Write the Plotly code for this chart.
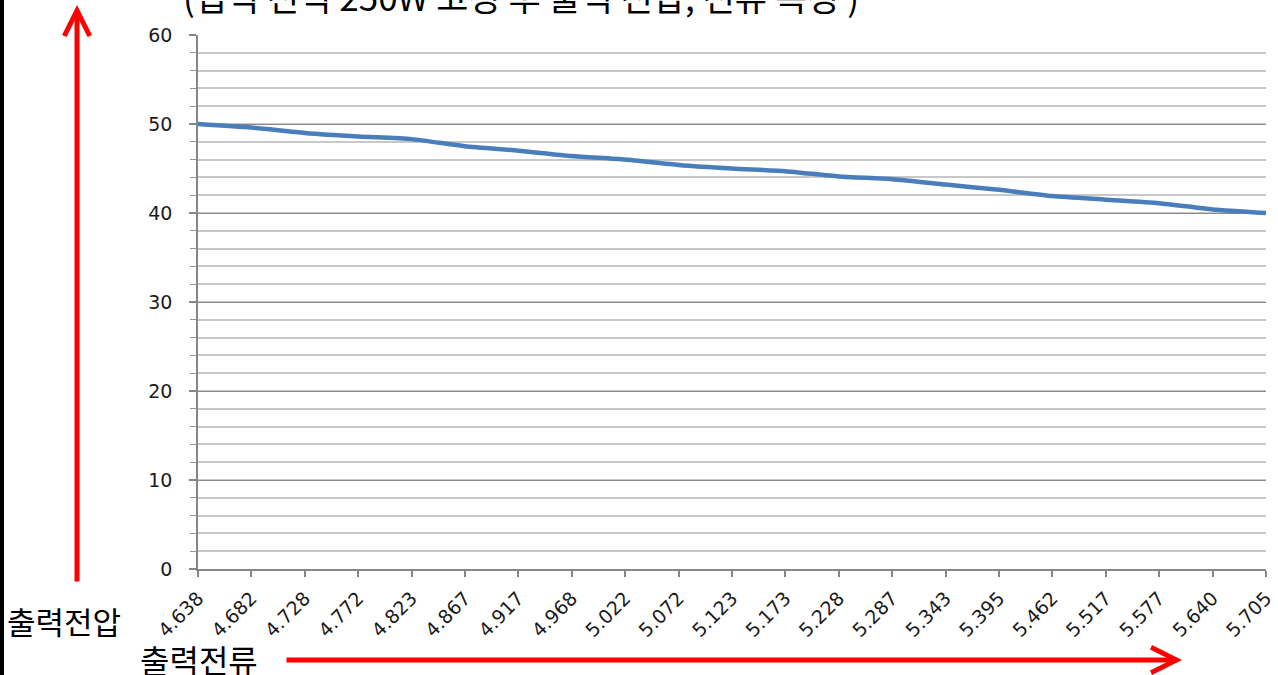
import plotly.graph_objects as go

# Output current (A) categories and output voltage (V) values
currents = ["4.638", "4.682", "4.728", "4.772", "4.823", "4.867", "4.917",
            "4.968", "5.022", "5.072", "5.123", "5.173", "5.228", "5.287",
            "5.343", "5.395", "5.462", "5.517", "5.577", "5.640", "5.705"]
voltages = [50.0, 49.6, 49.0, 48.6, 48.3, 47.5, 47.0, 46.4, 46.0, 45.4, 45.0,
            44.7, 44.1, 43.8, 43.2, 42.6, 41.9, 41.5, 41.1, 40.4, 40.0]
y_ticks = [0, 10, 20, 30, 40, 50, 60]

title_text = "(입력 전력 250W 고정 후 출력 전압, 전류 측정 )"
y_label = "출력전압"
x_label = "출력전류"

W, H = 1278, 675
L, R, T, B = 198, 12, 35, 106
PW, PH = W - L - R, H - T - B


def px(x):
    return (x - L) / PW


def py(y):
    return (H - B - y) / PH


fig = go.Figure()
fig.add_trace(go.Scatter(
    x=currents, y=voltages, mode="lines",
    line=dict(color="#4a7ebb", width=4.5, shape="spline", smoothing=0.6),
    hoverinfo="x+y", showlegend=False,
))

x_font = dict(family="DejaVu Sans, Verdana, sans-serif", size=19, color="#1a1a1a")
y_font = dict(family="DejaVu Sans, Verdana, sans-serif", size=19, color="#1a1a1a")

fig.update_layout(
    width=W, height=H,
    margin=dict(l=L, r=R, t=T, b=B, pad=0),
    paper_bgcolor="white", plot_bgcolor="white",
    xaxis=dict(
        type="category", range=[0, len(currents) - 1], automargin=False,
        showgrid=False, showline=True, linecolor="#868686", linewidth=1.5,
        ticks="outside", ticklen=6, tickcolor="#868686", tickwidth=1.5,
        tickangle=-45, tickfont=x_font, zeroline=False,
        ticklabelstandoff=3,
    ),
    yaxis=dict(
        range=[0, 60], tickvals=y_ticks, ticktext=[str(v) for v in y_ticks],
        automargin=False,
        showgrid=True, gridcolor="#8a8a8a", gridwidth=1.2,
        showline=True, linecolor="#868686", linewidth=1.5,
        ticks="outside", ticklen=7, tickcolor="#868686", tickwidth=1.5,
        tickfont=y_font, zeroline=False, ticklabelstandoff=13,
        minor=dict(dtick=2, tick0=0, showgrid=True, gridcolor="#c8c8c8",
                   gridwidth=1.5, ticks="outside", ticklen=6,
                   tickcolor="#9a9a9a", tickwidth=1.2),
    ),
)

# black strip at the left edge
fig.add_shape(type="rect", xref="paper", yref="paper",
              x0=px(-2), x1=px(4), y0=py(H + 5), y1=py(-5),
              fillcolor="black", line_width=0, layer="above")

# cut-off title at top
fig.add_annotation(text=title_text, xref="paper", yref="paper",
                   x=px(521), y=py(-5), xanchor="center", yanchor="middle",
                   showarrow=False,
                   font=dict(family="Noto Sans CJK KR", size=35, color="black"))

# axis name labels
fig.add_annotation(text=y_label, xref="paper", yref="paper",
                   x=px(64), y=py(620), xanchor="center", yanchor="middle",
                   showarrow=False,
                   font=dict(family="Noto Sans CJK KR", size=31, color="black"))
fig.add_annotation(text=x_label, xref="paper", yref="paper",
                   x=px(199), y=py(659), xanchor="center", yanchor="middle",
                   showarrow=False,
                   font=dict(family="Noto Sans CJK KR", size=32, color="black"))

# red arrows
fig.add_annotation(text="", xref="paper", yref="paper",
                   x=px(77), y=py(5), ax=0, ay=583 - 5,
                   showarrow=True, arrowhead=5, arrowsize=1.0,
                   arrowwidth=5, arrowcolor="#ff0000", standoff=0)
fig.add_annotation(text="", xref="paper", yref="paper",
                   x=px(1182), y=py(660), ax=285 - 1182, ay=0,
                   showarrow=True, arrowhead=5, arrowsize=1.0,
                   arrowwidth=5, arrowcolor="#ff0000", standoff=0)

fig.write_html("out.html",
               config={"displayModeBar": False},
               post_script="document.body.style.margin='0';"
                           "document.body.style.overflow='hidden';")
